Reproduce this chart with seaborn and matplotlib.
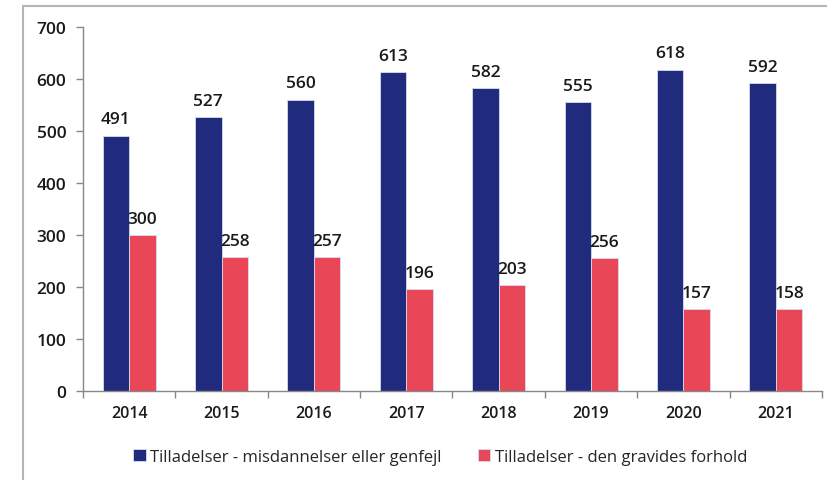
import matplotlib
matplotlib.use("Agg")
import matplotlib.pyplot as plt
import seaborn as sns
import pandas as pd
from matplotlib.lines import Line2D
from matplotlib.ticker import FixedLocator

years = ["2014", "2015", "2016", "2017", "2018", "2019", "2020", "2021"]
misdannelser = [491, 527, 560, 613, 582, 555, 618, 592]
gravides = [300, 258, 257, 196, 203, 256, 157, 158]
series_names = ["Tilladelser - misdannelser eller genfejl", "Tilladelser - den gravides forhold"]
colors = ["#212B7E", "#E94757"]

df = pd.DataFrame({
    "year": years * 2,
    "value": misdannelser + gravides,
    "series": [series_names[0]] * len(years) + [series_names[1]] * len(years),
})

sns.set_theme(style="white")
plt.rcParams["font.family"] = ["Open Sans", "DejaVu Sans"]

fig = plt.figure(figsize=(8.28, 4.81), dpi=100)
ax = fig.add_axes([83 / 828, 1 - 392 / 481, (822 - 83) / 828, (392 - 28) / 481])

sns.barplot(data=df, x="year", y="value", hue="series", palette=colors,
            width=0.575, ax=ax, edgecolor="#d8dcef", linewidth=0.6, saturation=1)

for cont in ax.containers:
    for bar in cont:
        h = bar.get_height()
        ax.annotate(f"{int(h)}", (bar.get_x() + bar.get_width() / 2, h),
                    xytext=(0, 6), textcoords="offset points", ha="center", va="bottom",
                    fontsize=12.5, fontweight="semibold", color="#1a1a1a")

ax.set_ylim(0, 700)
ax.set_xlim(-0.5, len(years) - 0.5)
ax.set_yticks(range(0, 701, 100))
ax.set_xlabel("")
ax.set_ylabel("")
for lab in ax.get_yticklabels():
    lab.set_fontweight("semibold")
    lab.set_fontsize(12.5)
    lab.set_color("#1a1a1a")
for lab in ax.get_xticklabels():
    lab.set_fontweight("semibold")
    lab.set_fontsize(11.5)
    lab.set_color("#1a1a1a")

ax.xaxis.set_minor_locator(FixedLocator([i - 0.5 for i in range(len(years) + 1)]))
ax.tick_params(axis="x", which="major", length=0, pad=10)
ax.tick_params(axis="x", which="minor", length=5, width=1, color="#888888", direction="out", bottom=True)
ax.tick_params(axis="y", which="major", length=5, width=1, color="#888888", direction="out", left=True, pad=7)

for side in ["top", "right"]:
    ax.spines[side].set_visible(False)
for side in ["left", "bottom"]:
    ax.spines[side].set_color("#888888")
    ax.spines[side].set_linewidth(1)

handles, labels = ax.get_legend_handles_labels()
ax.get_legend().remove()
fig.legend(handles, labels, loc="center", bbox_to_anchor=(440 / 828, 1 - 458 / 481),
           ncol=2, frameon=False, fontsize=12, handlelength=0.75, handleheight=0.75,
           handletextpad=0.25, columnspacing=2.2)

fig.add_artist(Line2D([23 / 828, 23 / 828], [0, 1 - 6.5 / 481], transform=fig.transFigure,
                      color="#b5b5b5", linewidth=1.5))
fig.add_artist(Line2D([23 / 828, 1], [1 - 6.5 / 481, 1 - 6.5 / 481], transform=fig.transFigure,
                      color="#b5b5b5", linewidth=1.5))

fig.savefig("out.png", dpi=100)
